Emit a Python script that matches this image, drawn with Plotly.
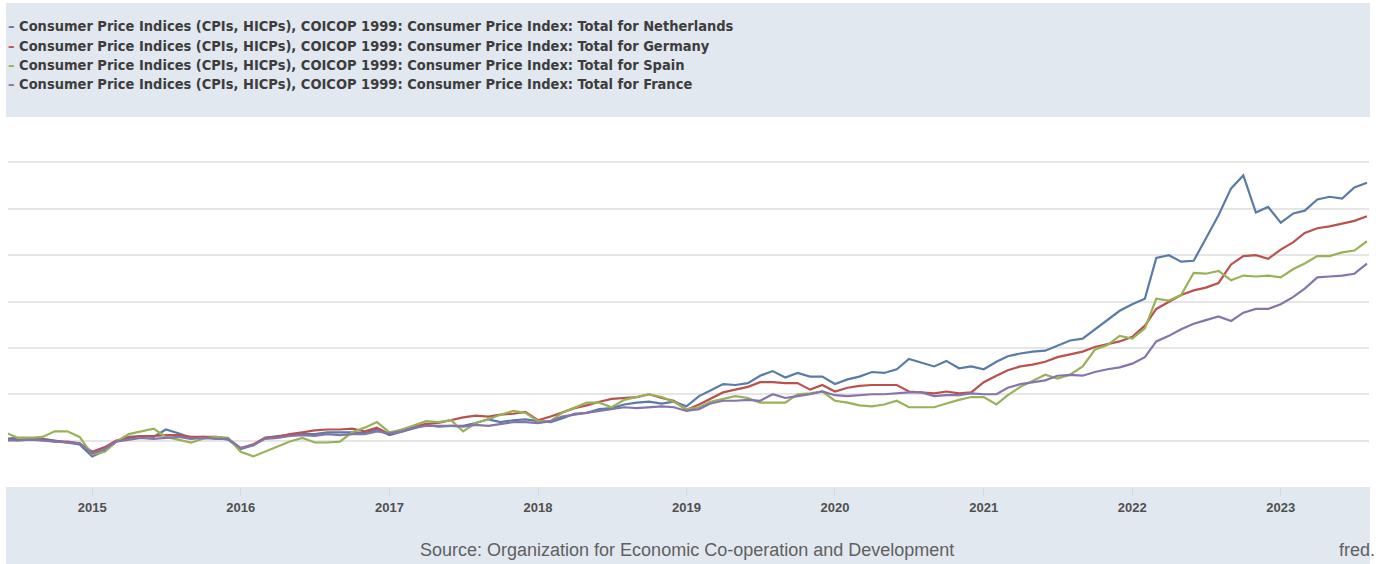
import plotly.graph_objects as go
import pandas as pd

months = pd.date_range("2014-06-01", "2023-08-01", freq="MS").strftime("%Y-%m-%d").tolist()

netherlands = [
    100.2, 100.3, 100.3, 100.2, 100.0, 99.8, 99.6,
    98.3, 98.9, 99.9, 100.4, 100.5, 100.4, 101.2, 100.8, 100.3, 100.4, 100.3, 100.1,
    99.1, 99.5, 100.3, 100.5, 100.6, 100.7, 100.7, 100.9, 100.9, 100.9, 100.8, 101.2,
    100.6, 101.0, 101.3, 101.7, 101.5, 101.6, 101.6, 101.9, 102.3, 102.0, 102.2, 102.3,
    102.1, 102.0, 102.4, 102.9, 103.0, 103.4, 103.5, 103.9, 104.1, 104.2, 104.0, 104.2,
    103.7, 104.8, 105.4, 106.1, 106.0, 106.2, 107.0, 107.5, 106.8, 107.3, 106.9, 106.9,
    106.1, 106.6, 106.9, 107.4, 107.3, 107.7, 108.8, 108.4, 108.0, 108.6, 107.8, 108.0,
    107.7, 108.5, 109.1, 109.4, 109.6, 109.7, 110.2, 110.8, 111.0, 112.0, 113.1, 114.0,
    114.7, 115.3, 119.7, 120.0, 119.3, 119.4, 121.8, 124.3, 127.2, 128.6, 124.6, 125.2,
    123.5, 124.5, 124.8, 126.0, 126.3, 126.1, 127.3, 127.8,
]

germany = [
    100.0, 100.1, 100.1, 100.1, 99.9, 99.9, 99.7,
    98.8, 99.3, 100.0, 100.3, 100.5, 100.5, 100.6, 100.6, 100.4, 100.4, 100.4, 100.2,
    99.2, 99.6, 100.3, 100.4, 100.7, 100.9, 101.1, 101.2, 101.2, 101.3, 101.0, 101.4,
    100.7, 101.2, 101.5, 101.8, 101.9, 102.2, 102.5, 102.7, 102.6, 102.8, 102.9, 103.1,
    102.2, 102.6, 103.0, 103.5, 103.8, 104.2, 104.5, 104.6, 104.7, 105.0, 104.6, 104.3,
    103.3, 103.9, 104.5, 105.2, 105.5, 105.8, 106.3, 106.3, 106.2, 106.2, 105.5, 106.0,
    105.3, 105.7, 105.9, 106.0, 106.0, 106.0, 105.3, 105.2, 105.1, 105.3, 105.1, 105.2,
    106.3, 107.0, 107.6, 108.0, 108.2, 108.5, 109.0, 109.3, 109.6, 110.1, 110.4, 110.7,
    111.2, 112.4, 114.2, 115.0, 115.7, 116.2, 116.5, 117.0, 119.0, 119.9, 120.0, 119.6,
    120.6, 121.4, 122.4, 122.9, 123.1, 123.4, 123.7, 124.2,
]

spain = [
    100.9, 100.3, 100.3, 100.4, 101.0, 101.0, 100.4,
    98.5, 98.8, 99.9, 100.7, 101.0, 101.3, 100.4, 100.1, 99.8, 100.2, 100.4, 100.3,
    98.8, 98.3, 98.8, 99.3, 99.9, 100.3, 99.8, 99.8, 99.9, 100.9, 101.4, 102.0,
    100.9, 101.2, 101.6, 102.1, 102.0, 102.2, 101.0, 101.9, 102.3, 102.8, 103.2, 103.0,
    102.1, 102.1, 103.0, 103.6, 104.1, 104.1, 103.6, 104.4, 104.7, 105.0, 104.7, 104.2,
    103.4, 103.6, 104.2, 104.5, 104.8, 104.6, 104.1, 104.1, 104.1, 105.0, 105.1, 105.3,
    104.3, 104.1, 103.8, 103.7, 103.9, 104.3, 103.6, 103.6, 103.6, 104.0, 104.4, 104.7,
    104.7, 103.9, 104.9, 105.8, 106.4, 107.1, 106.7, 107.1, 108.0, 109.8, 110.3, 111.3,
    111.0, 112.1, 115.3, 115.1, 115.7, 118.1, 118.0, 118.3, 117.3, 117.8, 117.7, 117.8,
    117.6, 118.5, 119.1, 119.9, 119.9, 120.3, 120.5, 121.5,
]

france = [
    100.1, 100.0, 100.1, 100.0, 99.9, 99.8, 99.7,
    98.6, 99.1, 99.9, 100.1, 100.3, 100.2, 100.3, 100.4, 100.2, 100.3, 100.2, 100.2,
    99.2, 99.5, 100.2, 100.3, 100.5, 100.6, 100.5, 100.7, 100.6, 100.7, 100.7, 101.0,
    100.8, 101.0, 101.4, 101.6, 101.6, 101.6, 101.5, 101.7, 101.6, 101.8, 102.0, 102.0,
    101.9, 102.1, 102.6, 102.8, 103.0, 103.2, 103.4, 103.6, 103.5, 103.6, 103.7, 103.6,
    103.2, 103.4, 104.0, 104.3, 104.3, 104.4, 104.3, 105.0, 104.6, 104.8, 105.0, 105.3,
    104.9, 104.8, 104.9, 105.0, 105.0, 105.1, 105.2, 105.2, 104.8, 104.9, 104.9, 105.1,
    105.0, 105.0, 105.7, 106.1, 106.3, 106.5, 107.0, 107.1, 107.0, 107.4, 107.7, 107.9,
    108.3, 109.0, 110.7, 111.3, 112.0, 112.6, 113.0, 113.4, 112.9, 113.8, 114.2, 114.2,
    114.7, 115.5, 116.4, 117.6, 117.7, 117.8, 118.0, 119.1,
]

prefix = "Consumer Price Indices (CPIs, HICPs), COICOP 1999: Consumer Price Index: Total for "
countries = ["Netherlands", "Germany", "Spain", "France"]
series = [netherlands, germany, spain, france]
colors = ["#5a7ba6", "#b9524e", "#98b257", "#8675ab"]

year_ticks = [f"{y}-01-01" for y in range(2015, 2024)]
year_labels = [str(y) for y in range(2015, 2024)]

fig = go.Figure()
for name, vals, col in zip(countries, series, colors):
    fig.add_trace(go.Scatter(x=months, y=vals, mode="lines", name=prefix + name,
                             line=dict(color=col, width=2.2), showlegend=False))

W, H = 1381, 564
ml, mr, mt, mb = 8, 12, 117, 77
pw, ph = W - ml - mr, H - mt - mb

def px2x(px):
    return (px - ml) / pw

def px2y(py):
    return (H - mb - py) / ph

band = "#e1e8ef"
shapes = [
    dict(type="rect", xref="paper", yref="paper", x0=px2x(6), x1=px2x(1370),
         y0=px2y(117), y1=px2y(3), fillcolor=band, line=dict(width=0), layer="below"),
    dict(type="rect", xref="paper", yref="paper", x0=px2x(6), x1=px2x(1370),
         y0=px2y(487), y1=px2y(564), fillcolor=band, line=dict(width=0), layer="below"),
]

legend_font = "Liberation Sans Narrow, Arial Narrow, DejaVu Sans Condensed, sans-serif"
annotations = []
for i, (name, col) in enumerate(zip(countries, colors)):
    annotations.append(dict(
        xref="paper", yref="paper", x=px2x(6), y=px2y(26 + i * 19.5),
        xanchor="left", yanchor="middle", showarrow=False,
        text=f"<b><span style='color:{col}'>–</span> {prefix}{name}</b>",
        font=dict(family=legend_font, size=14.5, color="#3d3d3d"),
    ))
annotations.append(dict(
    xref="paper", yref="paper", x=px2x(687), y=px2y(550), xanchor="center", yanchor="middle",
    showarrow=False, text="Source: Organization for Economic Co-operation and Development",
    font=dict(family="Liberation Sans, Arial, sans-serif", size=18, color="#606060"),
))
annotations.append(dict(
    xref="paper", yref="paper", x=px2x(1377), y=px2y(550), xanchor="right", yanchor="middle",
    showarrow=False, text="fred.",
    font=dict(family="Liberation Sans, Arial, sans-serif", size=18, color="#606060"),
))

fig.update_layout(
    width=W, height=H,
    margin=dict(l=ml, r=mr, t=mt, b=mb),
    paper_bgcolor="white", plot_bgcolor="rgba(0,0,0,0)",
    shapes=shapes, annotations=annotations, showlegend=False,
    xaxis=dict(type="date", range=["2014-06-08", "2023-08-06"],
               tickvals=year_ticks, ticktext=[f"<b>{t}</b>" for t in year_labels],
               showgrid=False, zeroline=False, showline=False,
               ticks="outside", ticklen=8, tickcolor="#d2dae3", tickwidth=1,
               tickfont=dict(family="Liberation Sans, Arial, sans-serif", size=13, color="#505050")),
    yaxis=dict(range=[95, 134.9], dtick=5, tick0=95, showticklabels=False,
               showgrid=True, gridcolor="#e6e6e6", gridwidth=1.5,
               zeroline=False, showline=False, ticks=""),
)

fig.write_html("out.html", config={"displayModeBar": False},
               post_script="document.body.style.margin='0px';document.body.style.overflow='hidden';")
